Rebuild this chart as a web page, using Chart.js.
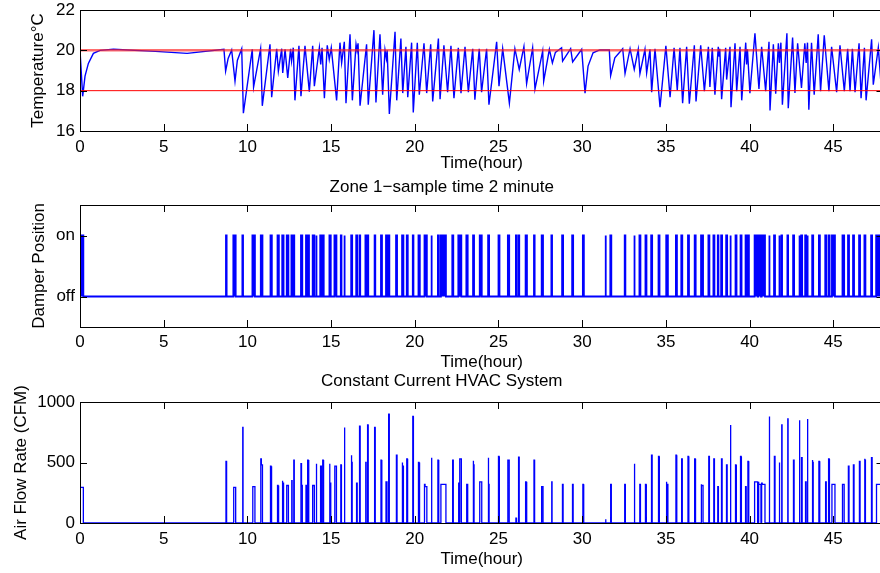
<!DOCTYPE html>
<html>
<head>
<meta charset="utf-8">
<script src="https://cdn.jsdelivr.net/npm/chart.js@4.4.1/dist/chart.umd.min.js"></script>
<style>
  html, body { margin: 0; padding: 0; background: #fff; width: 880px; height: 573px; overflow: hidden; }
  .panel { position: absolute; left: 0; }
</style>
</head>
<body>
<canvas id="tempChart" class="panel" width="892" height="175" style="top:0"></canvas>
<canvas id="damperChart" class="panel" width="892" height="200" style="top:175px"></canvas>
<canvas id="flowChart" class="panel" width="892" height="203" style="top:370px"></canvas>
<script>
// zone temperature (hour, degC) – peaks and troughs of the trace
const tempHour = [
  0, 0.16, 0.3, 0.5, 0.8, 1.2, 2.0, 4.5, 6.4, 8.6,
  8.7, 8.85, 9.06, 9.26, 9.4, 9.66, 9.76, 10.29, 10.37, 10.79,
  10.89, 11.35, 11.45, 11.75, 11.85, 12.05, 12.11, 12.25, 12.41, 12.58,
  12.64, 12.74, 12.84, 13.08, 13.2, 13.44, 13.7, 13.9, 14.0, 14.3,
  14.38, 14.46, 14.6, 14.77, 14.89, 15.01, 15.33, 15.53, 15.63, 15.79,
  15.89, 16.13, 16.27, 16.49, 16.55, 16.61, 16.73, 17.12, 17.22, 17.56,
  17.68, 17.92, 18.08, 18.22, 18.3, 18.35, 18.48, 18.82, 18.92, 19.17,
  19.28, 19.47, 19.58, 19.81, 19.91, 20.15, 20.27, 20.55, 20.71, 20.95,
  21.07, 21.41, 21.51, 21.74, 21.96, 22.16, 22.34, 22.6, 22.76, 23.0,
  23.2, 23.46, 23.59, 23.85, 23.99, 24.29, 24.43, 24.89, 25.03, 25.25,
  25.65, 25.98, 26.24, 26.52, 26.68, 27.04, 27.18, 27.64, 27.7, 28.04,
  28.22, 28.4, 28.77, 28.83, 29.31, 29.43, 29.97, 30.17, 30.35, 30.65,
  31.05, 31.62, 31.7, 31.95, 32.42, 32.56, 32.86, 33.11, 33.35, 33.45,
  33.75, 33.85, 34.05, 34.15, 34.35, 34.65, 35.0, 35.25, 35.49, 35.68,
  35.84, 36.0, 36.24, 36.4, 36.7, 36.8, 37.08, 37.3, 37.54, 37.63,
  37.77, 37.93, 38.13, 38.18, 38.22, 38.33, 38.57, 38.63, 38.83, 38.89,
  39.13, 39.23, 39.43, 39.53, 39.77, 39.82, 39.87, 40.02, 40.32, 40.56,
  40.72, 40.96, 41.16, 41.22, 41.42, 41.56, 41.72, 41.78, 41.87, 41.96,
  42.23, 42.31, 42.57, 42.71, 42.87, 43.1, 43.3, 43.38, 43.46, 43.54,
  43.7, 43.86, 44.1, 44.24, 44.46, 44.74, 44.9, 45.2, 45.4, 45.66,
  45.86, 46.0, 46.14, 46.3, 46.54, 46.66, 46.86, 46.96, 47.29, 47.39,
  47.69, 47.85, 48
];
const tempValue = [
  20.0, 17.72, 18.72, 19.35, 19.85, 20.0, 20.05, 19.95, 19.85, 20.05,
  18.97, 19.6, 20.02, 18.47, 19.5, 20.08, 16.88, 20.05, 18.18, 20.08,
  17.25, 20.3, 17.68, 20.08, 18.97, 20.08, 18.88, 20.05, 18.63, 20.08,
  19.47, 20.13, 17.52, 20.22, 17.72, 20.22, 17.95, 20.22, 18.22, 20.13,
  19.3, 20.13, 17.63, 20.25, 19.55, 20.13, 17.52, 20.38, 19.38, 20.42,
  17.38, 20.8, 17.52, 20.3, 20.0, 20.35, 17.25, 20.3, 17.3, 21.0,
  17.42, 20.8, 17.8, 20.02, 19.6, 20.0, 16.85, 20.92, 17.52, 20.58,
  17.88, 20.18, 17.68, 20.38, 16.92, 20.38, 17.8, 20.35, 17.88, 20.3,
  17.47, 20.58, 17.58, 20.25, 17.92, 20.22, 17.63, 20.13, 17.88, 20.18,
  17.92, 20.08, 17.55, 20.08, 17.92, 20.08, 17.3, 20.42, 18.22, 20.08,
  17.38, 20.08, 19.05, 20.18, 18.35, 20.13, 18.08, 19.97, 18.47, 20.05,
  19.38, 19.9, 20.13, 19.47, 20.08, 19.42, 20.05, 17.88, 19.22, 19.88,
  20.02, 20.02, 18.75, 19.63, 20.08, 18.85, 20.08, 19.05, 20.05, 18.85,
  20.05, 18.88, 20.05, 17.92, 20.08, 17.18, 20.22, 17.68, 20.13, 18.02,
  20.13, 17.38, 20.18, 17.35, 20.25, 17.47, 20.25, 17.97, 20.18, 18.18,
  20.13, 17.8, 20.18, 19.72, 20.08, 17.58, 20.13, 18.55, 20.18, 17.18,
  20.35, 17.97, 20.18, 17.52, 20.38, 19.3, 20.05, 17.88, 20.85, 18.08,
  20.18, 17.97, 20.42, 17.02, 20.3, 17.85, 20.35, 19.38, 20.38, 17.3,
  20.85, 17.13, 20.63, 17.88, 20.35, 18.13, 20.35, 19.38, 20.38, 17.05,
  20.38, 17.8, 20.8, 17.97, 20.75, 17.97, 20.18, 17.92, 20.25, 17.97,
  20.08, 17.97, 20.08, 17.92, 20.35, 17.63, 20.13, 17.52, 20.55, 18.3,
  20.13, 18.35, 18.9
];
const setpointHigh = 20;
const setpointLow = 18;

// supply air pulses: start/end hour, first-sample peak and held level (CFM)
const pulseOn = [
  0.00, 8.72, 9.16, 9.70, 10.30, 10.80, 11.38, 11.80, 12.08, 12.35,
  12.63, 12.75, 13.20, 13.50, 13.60, 13.90, 14.10, 14.35, 14.50, 14.90,
  15.20, 15.58, 15.78, 16.20, 16.50, 16.70, 17.05, 17.18, 17.60, 17.98,
  18.28, 18.44, 18.88, 19.24, 19.52, 19.88, 20.22, 20.58, 20.98, 21.38,
  21.56, 22.24, 22.60, 22.70, 23.08, 23.48, 23.88, 24.38, 25.00, 25.56,
  26.04, 26.20, 26.62, 27.12, 27.58, 28.16, 28.80, 29.40, 30.04, 31.38,
  31.68, 32.54, 33.10, 33.42, 33.78, 34.12, 34.56, 35.02, 35.60, 35.92,
  36.32, 36.72, 37.10, 37.54, 37.84, 38.10, 38.30, 38.60, 38.84, 39.16,
  39.46, 39.76, 39.90, 40.30, 40.52, 40.72, 41.16, 41.46, 41.76, 41.90,
  42.26, 42.60, 42.96, 43.08, 43.32, 43.44, 43.74, 44.14, 44.52, 44.72,
  44.92, 45.55, 45.88, 46.18, 46.54, 46.86, 47.26, 47.56
];
const pulseOff = [
  0.20, 8.76, 9.30, 9.74, 10.45, 10.90, 11.46, 11.88, 12.16, 12.45,
  12.67, 12.80, 13.28, 13.56, 13.68, 14.00, 14.14, 14.42, 14.56, 14.98,
  15.32, 15.62, 15.82, 16.26, 16.56, 16.74, 17.09, 17.22, 17.64, 18.04,
  18.34, 18.48, 18.94, 19.32, 19.58, 19.92, 20.30, 20.72, 21.02, 21.44,
  21.86, 22.30, 22.66, 22.78, 23.16, 23.54, 24.00, 24.44, 25.06, 25.64,
  26.08, 26.24, 26.70, 27.16, 27.66, 28.20, 28.86, 29.46, 30.10, 31.42,
  31.74, 32.58, 33.14, 33.48, 33.84, 34.18, 34.62, 35.12, 35.66, 35.98,
  36.38, 36.78, 37.22, 37.60, 37.90, 38.14, 38.36, 38.66, 38.88, 39.22,
  39.52, 39.80, 39.96, 40.48, 40.68, 40.92, 41.20, 41.52, 41.80, 41.94,
  42.30, 42.66, 43.00, 43.14, 43.38, 43.48, 43.80, 44.20, 44.58, 44.78,
  45.10, 45.65, 45.94, 46.24, 46.60, 46.92, 47.32, 48.00
];
const pulsePeak = [
  295, 510, 295, 790, 300, 530, 470, 310, 350, 310,
  350, 520, 490, 310, 520, 310, 490, 470, 520, 490,
  470, 480, 790, 560, 330, 800, 500, 810, 790, 520,
  340, 900, 560, 500, 530, 880, 500, 320, 540, 520,
  320, 520, 330, 530, 320, 515, 340, 540, 550, 520,
  40, 545, 340, 520, 300, 340, 320, 320, 320, 30,
  320, 320, 490, 320, 320, 560, 550, 340, 560, 530,
  550, 530, 320, 550, 530, 300, 530, 480, 810, 480,
  550, 300, 510, 340, 340, 330, 880, 550, 500, 810,
  860, 520, 850, 540, 340, 860, 520, 510, 340, 530,
  320, 320, 470, 480, 510, 530, 540, 320
];
const pulseHold = [
  295, 510, 295, 790, 300, 480, 310, 310, 330, 310,
  350, 520, 310, 310, 500, 310, 490, 470, 500, 330,
  470, 480, 790, 500, 330, 800, 500, 810, 790, 300,
  340, 900, 560, 470, 530, 880, 500, 300, 540, 320,
  320, 520, 330, 530, 320, 480, 340, 320, 520, 520,
  40, 545, 340, 520, 300, 340, 320, 320, 300, 30,
  320, 320, 490, 320, 320, 560, 510, 320, 320, 530,
  320, 330, 310, 550, 530, 300, 530, 480, 810, 480,
  550, 300, 490, 340, 320, 320, 880, 550, 500, 810,
  860, 520, 850, 540, 340, 860, 500, 510, 340, 530,
  320, 320, 470, 480, 510, 520, 540, 320
];

const tempTicks = [16, 18, 20, 22];
const damperLevels = [0, 1];
const damperLabels = ['off', 'on'];
const flowTicks = [0, 500, 1000];
const hourStep = 5;
const SAMPLE = 2 / 60; // 2 minute sample, in hours

const BLUE = '#0000ff';
const TICK_LEN = 7;

Chart.defaults.font.family = '"Liberation Sans", Arial, Helvetica, sans-serif';
Chart.defaults.font.size = 17;
Chart.defaults.color = '#000';
Chart.defaults.animation = false;

// matlab style box with inward tick marks on all four sides
const boxAxes = {
  id: 'boxAxes',
  afterDatasetsDraw(chart) {
    const { ctx, chartArea: a, scales: { x, y } } = chart;
    ctx.save();
    ctx.strokeStyle = '#000';
    ctx.lineWidth = 1;
    ctx.beginPath();
    x.ticks.forEach(t => {
      const px = Math.round(x.getPixelForValue(t.value)) + 0.5;
      ctx.moveTo(px, a.bottom); ctx.lineTo(px, a.bottom - TICK_LEN);
      ctx.moveTo(px, a.top); ctx.lineTo(px, a.top + TICK_LEN);
    });
    y.ticks.forEach(t => {
      const py = Math.round(y.getPixelForValue(t.value)) + 0.5;
      ctx.moveTo(a.left, py); ctx.lineTo(a.left + TICK_LEN, py);
      ctx.moveTo(a.right, py); ctx.lineTo(a.right - TICK_LEN, py);
    });
    ctx.stroke();
    ctx.strokeRect(Math.round(a.left) + 0.5, Math.round(a.top) + 0.5,
      Math.round(a.width), Math.round(a.height));
    ctx.restore();
  }
};

function xScale(tickPad, titlePad, height) {
  return {
    type: 'linear', min: 0, max: 48,
    grid: { display: false, drawTicks: false },
    border: { display: false },
    ticks: { stepSize: hourStep, includeBounds: false, autoSkip: false, maxRotation: 0, padding: tickPad },
    title: { display: true, text: 'Time(hour)', padding: { top: 0, bottom: titlePad } },
    afterFit: s => { s.height = height; s.paddingLeft = 0; s.paddingRight = 0; }
  };
}

function yScale(min, max, values, titleText, titlePad, label) {
  return {
    min, max,
    grid: { display: false, drawTicks: false },
    border: { display: false },
    afterBuildTicks: s => { s.ticks = values.map(v => ({ value: v })); },
    ticks: { padding: 5, autoSkip: false, callback: label || (v => v) },
    title: { display: true, text: titleText, padding: { top: titlePad, bottom: 0 } },
    afterFit: s => { s.width = 80; s.paddingTop = 0; s.paddingBottom = 0; }
  };
}

const flatLine = v => [{ x: 0, y: v }, { x: 48, y: v }];
const tempPoints = tempHour.map((h, i) => ({ x: h, y: tempValue[i] }));

const flowPoints = [{ x: 0, y: 0 }];
const damperPoints = [{ x: 0, y: 0 }];
pulseOn.forEach((s, i) => {
  const e = pulseOff[i];
  flowPoints.push({ x: s, y: 0 }, { x: s, y: pulsePeak[i] }, { x: s + SAMPLE, y: pulsePeak[i] },
    { x: s + SAMPLE, y: pulseHold[i] }, { x: e, y: pulseHold[i] }, { x: e, y: 0 });
  damperPoints.push({ x: s, y: 0 }, { x: s, y: 1 }, { x: e, y: 1 }, { x: e, y: 0 });
});
flowPoints.push({ x: 48, y: 0 });
damperPoints.push({ x: 48, y: 0 });

const lineDefaults = { pointRadius: 0, tension: 0, fill: false };

new Chart(document.getElementById('tempChart'), {
  type: 'line',
  data: {
    datasets: [
      { ...lineDefaults, data: flatLine(setpointHigh), borderColor: 'rgba(255,30,30,0.65)', borderWidth: 2.5 },
      { ...lineDefaults, data: flatLine(setpointLow), borderColor: '#ff0000', borderWidth: 1 },
      { ...lineDefaults, data: tempPoints, borderColor: BLUE, borderWidth: 1.4 }
    ]
  },
  options: {
    responsive: false,
    layout: { padding: { top: 10, right: 8.5, left: 0, bottom: 0 } },
    plugins: { legend: { display: false }, tooltip: { enabled: false } },
    scales: {
      x: xScale(6, 1, 44),
      y: yScale(16, 22, tempTicks, 'Temperature°C', 28.3)
    }
  },
  plugins: [boxAxes]
});

new Chart(document.getElementById('damperChart'), {
  type: 'line',
  data: {
    datasets: [
      { ...lineDefaults, data: damperPoints, borderColor: BLUE, borderWidth: 1.8,
        fill: 'origin', backgroundColor: BLUE }
    ]
  },
  options: {
    responsive: false,
    layout: { padding: { top: 0, right: 8.5, left: 0, bottom: 0 } },
    plugins: {
      legend: { display: false }, tooltip: { enabled: false },
      title: { display: true, text: 'Zone 1−sample time 2 minute', font: { size: 17, weight: 'normal' }, color: '#000', padding: { top: 2, bottom: 7.6 } }
    },
    scales: {
      x: xScale(5.5, 2.8, 48),
      y: yScale(-0.5, 1.5, damperLevels, 'Damper Position', 29.3, v => damperLabels[damperLevels.indexOf(v)])
    }
  },
  plugins: [boxAxes]
});

new Chart(document.getElementById('flowChart'), {
  type: 'line',
  data: {
    datasets: [
      { ...lineDefaults, data: flowPoints, borderColor: BLUE, borderWidth: 1.3 }
    ]
  },
  options: {
    responsive: false,
    layout: { padding: { top: 0, right: 8.5, left: 0, bottom: 0 } },
    plugins: {
      legend: { display: false }, tooltip: { enabled: false },
      title: { display: true, text: 'Constant Current HVAC System', font: { size: 17, weight: 'normal' }, color: '#000', padding: { top: 1, bottom: 10.6 } }
    },
    scales: {
      x: xScale(6, 3.8, 50),
      y: yScale(0, 1000, flowTicks, 'Air Flow Rate (CFM)', 10.8)
    }
  },
  plugins: [boxAxes]
});
</script>
</body>
</html>
